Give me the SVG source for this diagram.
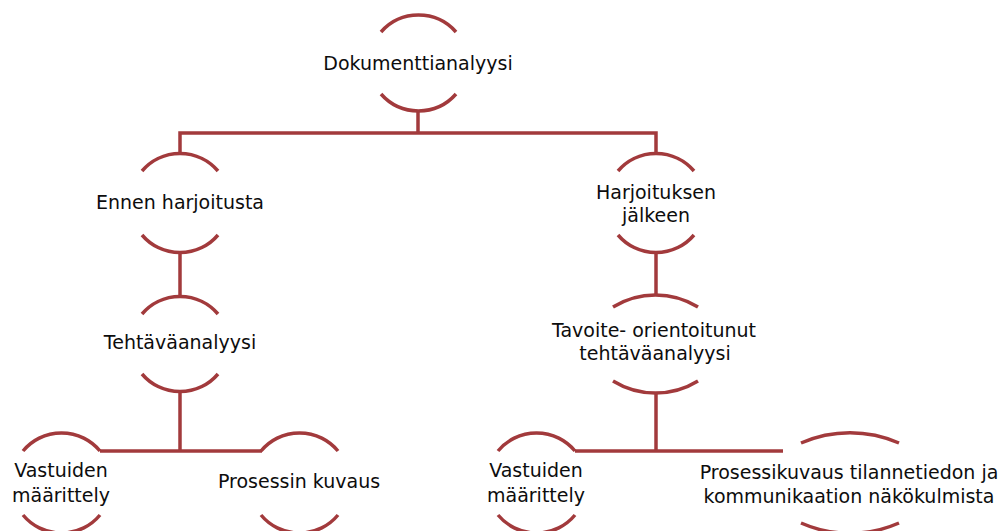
<svg xmlns="http://www.w3.org/2000/svg" width="1008" height="531" viewBox="0 0 1008 531">
<style>
.arc{fill:none;stroke:#A23A3C;stroke-width:3.5;stroke-linecap:butt}
.con{fill:none;stroke:#A23A3C;stroke-width:3.5;stroke-linejoin:miter}
text{font-family:"DejaVu Sans",sans-serif;font-size:19px;fill:#0d0d0d;text-anchor:middle}
</style>
<rect width="1008" height="531" fill="#ffffff"/>
<g id="connectors">
<path class="con" d="M418,111 V133"/>
<path class="con" d="M180,154 V133 H656 V154"/>
<path class="con" d="M180,252 V297"/>
<path class="con" d="M656,252 V295"/>
<path class="con" d="M180,391 V451"/>
<path class="con" d="M100,451 H262"/>
<path class="con" d="M656,393 V451"/>
<path class="con" d="M575,451 H783"/>
</g>
<g id="n-dokumenttianalyysi">
<path class="arc" d="M381,32 A50,50 0 0 1 456,32"/>
<path class="arc" d="M381,94 A50,50 0 0 0 456,94"/>
<text x="418" y="70">Dokumenttianalyysi</text>
</g>
<g id="n-ennen">
<path class="arc" d="M142,171 A50,50 0 0 1 218,171"/>
<path class="arc" d="M142,235 A50,50 0 0 0 218,235"/>
<text x="180" y="209">Ennen harjoitusta</text>
</g>
<g id="n-harjoituksen">
<path class="arc" d="M618,171 A50,50 0 0 1 694,171"/>
<path class="arc" d="M618,235 A50,50 0 0 0 694,235"/>
<text x="656" y="199"><tspan x="656" y="199">Harjoituksen</tspan><tspan x="656" y="222">jälkeen</tspan></text>
</g>
<g id="n-tehtavaanalyysi">
<path class="arc" d="M142,314 A50,50 0 0 1 218,314"/>
<path class="arc" d="M142,374 A50,50 0 0 0 218,374"/>
<text x="180" y="349">Tehtäväanalyysi</text>
</g>
<g id="n-tavoite">
<path class="arc" d="M613,307 A81,81 0 0 1 698,307"/>
<path class="arc" d="M613,381 A81,81 0 0 0 698,381"/>
<text x="654" y="337"><tspan x="654" y="337">Tavoite- orientoitunut</tspan><tspan x="655" y="360">tehtäväanalyysi</tspan></text>
</g>
<g id="n-vastuiden-left">
<path class="arc" d="M23,451 A50,50 0 0 1 100,451"/>
<path class="arc" d="M23,515 A50,50 0 0 0 100,515"/>
<text x="61" y="477"><tspan x="61" y="477">Vastuiden</tspan><tspan x="61" y="502">määrittely</tspan></text>
</g>
<g id="n-prosessin-kuvaus">
<path class="arc" d="M261,451 A50,50 0 0 1 338,451"/>
<path class="arc" d="M261,515 A50,50 0 0 0 338,515"/>
<text x="299" y="488">Prosessin kuvaus</text>
</g>
<g id="n-vastuiden-right">
<path class="arc" d="M498,451 A50,50 0 0 1 575,451"/>
<path class="arc" d="M498,515 A50,50 0 0 0 575,515"/>
<text x="536" y="477"><tspan x="536" y="477">Vastuiden</tspan><tspan x="536" y="502">määrittely</tspan></text>
</g>
<g id="n-prosessikuvaus">
<path class="arc" d="M801,443 A122,122 0 0 1 899,443"/>
<path class="arc" d="M801,523 A122,122 0 0 0 899,523"/>
<text x="849" y="479"><tspan x="849" y="479">Prosessikuvaus tilannetiedon ja</tspan><tspan x="849" y="503">kommunikaation näkökulmista</tspan></text>
</g>
</svg>
